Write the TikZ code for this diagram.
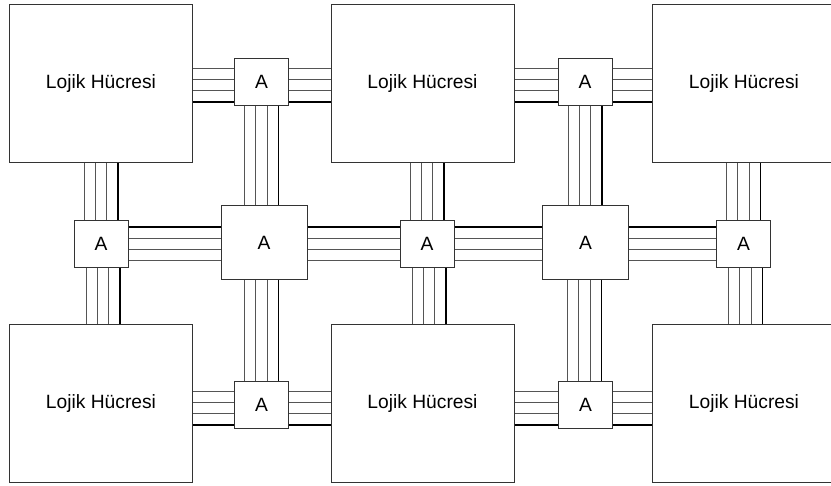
\documentclass[tikz,border=0pt]{standalone}
\usepackage{fontspec}
\setmainfont{Liberation Sans}
\usetikzlibrary{calc}
\definecolor{wiregray}{HTML}{555555}
\definecolor{boxline}{HTML}{333333}
\tikzset{
  cell/.style={draw=boxline, line width=1pt, fill=white, minimum width=183bp, minimum height=158bp, inner sep=0pt, font=\fontsize{19.3}{22}\selectfont},
  swbox/.style={draw=boxline, line width=1pt, fill=white, minimum width=54bp, minimum height=47bp, inner sep=0pt, font=\fontsize{19.3}{22}\selectfont},
  bigbox/.style={draw=boxline, line width=1pt, fill=white, minimum width=86bp, minimum height=74bp, inner sep=0pt, font=\fontsize{19.3}{22}\selectfont},
  wireg/.style={draw=wiregray, line width=1pt},
  wirek/.style={draw=black, line width=1.2pt},
}
% horizontal bus: #1 left node, #2 right node, #3 y-reference node, #4 downward shift, #5 index of black line (1 = top)
\newcommand\hbus[5]{%
  \foreach \k in {1,2,3,4}{%
    \pgfmathsetmacro\off{(\k-2.5)*11.33+#4}%
    \ifnum\k=#5 \def\wst{wirek}\else\def\wst{wireg}\fi
    \draw[\wst] ($(#1.east |- #3.center)+(0,\off)$) -- ($(#2.west |- #3.center)+(0,\off)$);
  }%
}
% vertical bus: #1 upper node, #2 lower node, #3 x-reference node, #4 right shift, #5 index of black line (4 = right)
\newcommand\vbus[5]{%
  \foreach \k in {1,2,3,4}{%
    \pgfmathsetmacro\off{(\k-2.5)*11.33+#4}%
    \ifnum\k=#5 \def\wst{wirek}\else\def\wst{wireg}\fi
    \draw[\wst] ($(#1.south -| #3.center)+(\off,0)$) -- ($(#2.north -| #3.center)+(\off,0)$);
  }%
}
\begin{document}
\begin{tikzpicture}[x=1bp,y=-1bp]
\useasboundingbox (0,0) rectangle (831,486);
% logic cells
\node[cell] (c11) at (101,83.5) {Lojik Hücresi};
\node[cell] (c12) at (422.5,83.5) {Lojik Hücresi};
\node[cell] (c13) at (744,83.5) {Lojik Hücresi};
\node[cell] (c21) at (101,403.5) {Lojik Hücresi};
\node[cell] (c22) at (422.5,403.5) {Lojik Hücresi};
\node[cell] (c23) at (744,403.5) {Lojik Hücresi};
% switch boxes
\node[swbox] (a1) at (261.5,82) {A};
\node[swbox] (a2) at (585,82) {A};
\node[swbox] (m1) at (101,244) {A};
\node[swbox] (m3) at (427,244) {A};
\node[swbox] (m5) at (743.5,244) {A};
\node[swbox] (b1) at (261.5,405) {A};
\node[swbox] (b2) at (585.5,405) {A};
\node[bigbox] (M2) at (264,242.5) {A};
\node[bigbox] (M4) at (585.5,242.5) {A};
% top row horizontal buses
\hbus{c11}{a1}{a1}{3}{4}
\hbus{a1}{c12}{a1}{3}{4}
\hbus{c12}{a2}{a2}{3}{4}
\hbus{a2}{c13}{a2}{3}{4}
% middle row horizontal buses
\hbus{m1}{M2}{m1}{0}{1}
\hbus{M2}{m3}{m3}{0}{1}
\hbus{m3}{M4}{m3}{0}{1}
\hbus{M4}{m5}{m5}{0}{1}
% bottom row horizontal buses
\hbus{c21}{b1}{b1}{3}{4}
\hbus{b1}{c22}{b1}{3}{4}
\hbus{c22}{b2}{b2}{3}{4}
\hbus{b2}{c23}{b2}{3}{4}
% vertical buses
\vbus{c11}{m1}{m1}{0}{4}
\vbus{m1}{c21}{m1}{2}{4}
\vbus{a1}{M2}{a1}{0}{4}
\vbus{M2}{b1}{b1}{0}{4}
\vbus{c12}{m3}{m3}{0}{4}
\vbus{m3}{c22}{m3}{2}{4}
\vbus{a2}{M4}{a2}{0}{4}
\vbus{M4}{b2}{b2}{-1}{4}
\vbus{c13}{m5}{m5}{0}{4}
\vbus{m5}{c23}{m5}{2}{4}
\end{tikzpicture}
\end{document}
